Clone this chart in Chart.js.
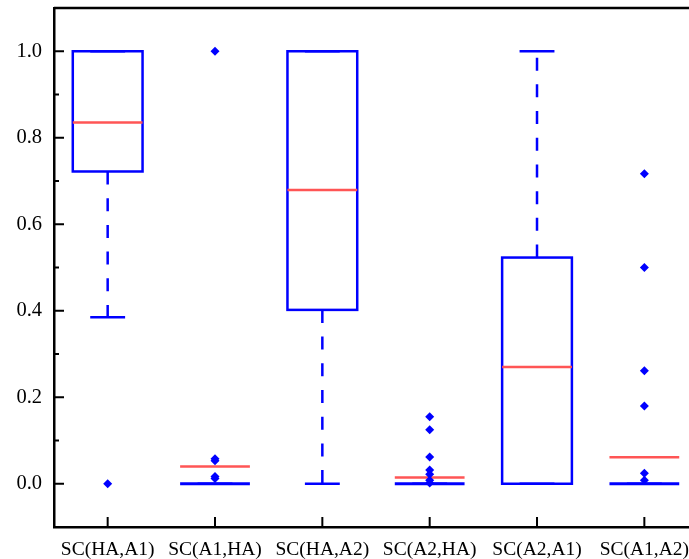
<!DOCTYPE html>
<html>
<head>
<meta charset="utf-8">
<script src="https://cdn.jsdelivr.net/npm/chart.js@4.4.1/dist/chart.umd.min.js"></script>
<style>
  html, body { margin: 0; padding: 0; background: #fff; overflow: hidden; }
  #wrap { width: 689px; height: 559px; }
</style>
</head>
<body>
<div id="wrap"><canvas id="chart" width="689" height="559"></canvas></div>
<script>
// Categories (pairs) and box statistics
const categories = ['SC(HA,A1)', 'SC(A1,HA)', 'SC(HA,A2)', 'SC(A2,HA)', 'SC(A2,A1)', 'SC(A1,A2)'];
const q1Values     = [0.722, 0, 0.402, 0, 0, 0];
const q3Values     = [1.0,   0, 1.0,   0, 0.523, 0];
const centerValues = [0.835, 0.040, 0.679, 0.0145, 0.270, 0.061];
const whiskerLow   = [0.385, 0, 0, 0, 0, 0];
const whiskerHigh  = [1.0,   0, 1.0, 0, 1.0, 0];
const outlierValues = [
  [0.0],
  [1.0, 0.058, 0.053, 0.017, 0.012],
  [],
  [0.155, 0.125, 0.062, 0.032, 0.022, 0.008, 0.002],
  [],
  [0.717, 0.500, 0.261, 0.180, 0.0245, 0.008]
];
const yMin = -0.1, yMax = 1.1, yStep = 0.1;
const yTickLabels = ['0.0', '0.2', '0.4', '0.6', '0.8', '1.0'];

// x axis runs over category indices; the plot is cut just before the last band ends
const xMin = -0.5, xMax = 5.416;

const BLUE = '#0000ff';
const RED = '#ff5555';
const FAMILY = "'Liberation Serif', 'Times New Roman', serif";

const outlierPoints = [];
outlierValues.forEach((vals, i) => vals.forEach(v => outlierPoints.push({ x: i, y: v })));

// Boxes, whiskers, caps and centre lines, positioned through the chart scales
const boxPlugin = {
  id: 'boxes',
  beforeDatasetsDraw(chart) {
    const { ctx, scales: { x, y } } = chart;
    const band = x.getPixelForValue(1) - x.getPixelForValue(0);
    const boxW = band * 0.65, capW = boxW / 2;
    ctx.save();
    ctx.lineCap = 'butt';
    categories.forEach((c, i) => {
      const cx = x.getPixelForValue(i);
      const yq1 = y.getPixelForValue(q1Values[i]);
      const yq3 = y.getPixelForValue(q3Values[i]);
      const ylo = y.getPixelForValue(whiskerLow[i]);
      const yhi = y.getPixelForValue(whiskerHigh[i]);
      ctx.strokeStyle = BLUE;
      ctx.lineWidth = 2.5;
      // dashed whiskers
      ctx.setLineDash([13, 13.7]);
      if (whiskerLow[i] < q1Values[i]) {
        ctx.beginPath(); ctx.moveTo(cx, yq1); ctx.lineTo(cx, ylo); ctx.stroke();
      }
      if (whiskerHigh[i] > q3Values[i]) {
        ctx.beginPath(); ctx.moveTo(cx, yq3); ctx.lineTo(cx, yhi); ctx.stroke();
      }
      ctx.setLineDash([]);
      // caps
      ctx.beginPath();
      ctx.moveTo(cx - capW / 2, ylo); ctx.lineTo(cx + capW / 2, ylo);
      ctx.moveTo(cx - capW / 2, yhi); ctx.lineTo(cx + capW / 2, yhi);
      ctx.stroke();
      // box
      if (Math.abs(yq1 - yq3) < 0.5) {
        ctx.lineWidth = 3;
        ctx.beginPath(); ctx.moveTo(cx - boxW / 2, yq1); ctx.lineTo(cx + boxW / 2, yq1); ctx.stroke();
      } else {
        ctx.lineWidth = 2.5;
        ctx.strokeRect(cx - boxW / 2, yq3, boxW, yq1 - yq3);
      }
      // centre line
      const ym = y.getPixelForValue(centerValues[i]);
      ctx.strokeStyle = RED;
      ctx.lineWidth = 2.5;
      ctx.beginPath(); ctx.moveTo(cx - boxW / 2, ym); ctx.lineTo(cx + boxW / 2, ym); ctx.stroke();
    });
    ctx.restore();
  }
};

// Inward tick marks and the top frame line
const framePlugin = {
  id: 'frame',
  afterDraw(chart) {
    const { ctx, chartArea: a, scales: { x, y } } = chart;
    ctx.save();
    ctx.strokeStyle = '#000';
    ctx.lineWidth = 2.5;
    ctx.beginPath();
    ctx.moveTo(a.left, a.top); ctx.lineTo(chart.width, a.top);
    ctx.stroke();
    ctx.lineWidth = 2;
    ctx.beginPath();
    for (let k = 1; k < 12; k++) {
      const v = yMin + k * yStep;
      const py = y.getPixelForValue(v);
      const len = (k % 2 === 1) ? 10 : 5;
      ctx.moveTo(a.left, py); ctx.lineTo(a.left + len, py);
    }
    categories.forEach((c, i) => {
      const px = x.getPixelForValue(i);
      ctx.moveTo(px, a.bottom); ctx.lineTo(px, a.bottom - 10);
    });
    ctx.stroke();
    ctx.restore();
  }
};

new Chart(document.getElementById('chart'), {
  type: 'scatter',
  data: {
    datasets: [{
      data: outlierPoints,
      showLine: false,
      pointStyle: 'rectRot',
      pointRadius: 4.5,
      pointBorderWidth: 0,
      pointBackgroundColor: BLUE,
      pointBorderColor: BLUE
    }]
  },
  options: {
    responsive: false,
    animation: false,
    layout: { autoPadding: false, padding: { left: 0, top: 8, right: 0, bottom: 0 } },
    plugins: { legend: { display: false }, tooltip: { enabled: false } },
    scales: {
      x: {
        type: 'linear',
        min: xMin,
        max: xMax,
        grid: { display: false, drawTicks: false },
        border: { display: true, color: '#000', width: 2.5 },
        afterBuildTicks(scale) { scale.ticks = categories.map((c, i) => ({ value: i })); },
        ticks: {
          color: '#000',
          font: { family: FAMILY, size: 19.5 },
          padding: 11,
          maxRotation: 0,
          autoSkip: false,
          callback(v) { return categories[v] ?? ''; }
        },
        afterFit(scale) { scale.height = 32; scale.paddingLeft = 0; scale.paddingRight = 0; }
      },
      y: {
        min: yMin,
        max: yMax,
        grid: { display: false, drawTicks: false },
        border: { display: true, color: '#000', width: 2.5 },
        ticks: {
          stepSize: yStep,
          color: '#000',
          font: { family: FAMILY, size: 20.5 },
          padding: 12,
          callback(v) {
            const k = Math.round(v * 10);
            if (k < 0 || k > 10 || k % 2 !== 0) return '';
            return yTickLabels[k / 2];
          }
        },
        afterFit(scale) { scale.width = 54; scale.paddingTop = 0; scale.paddingBottom = 0; }
      }
    }
  },
  plugins: [boxPlugin, framePlugin]
});
</script>
</body>
</html>
